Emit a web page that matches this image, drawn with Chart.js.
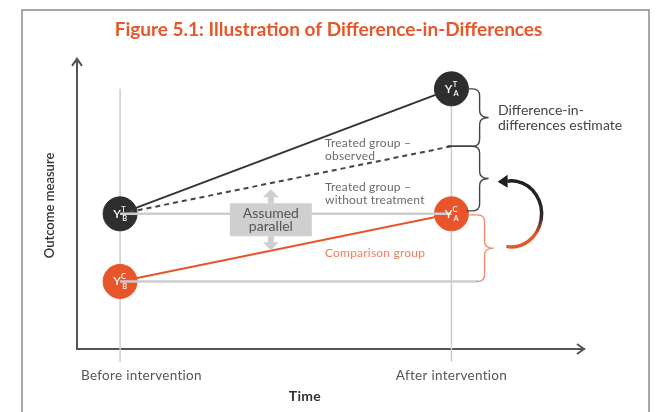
<!DOCTYPE html>
<html>
<head>
<meta charset="utf-8">
<script src="https://cdn.jsdelivr.net/npm/chart.js@4/dist/chart.umd.min.js"></script>
<style>
  html, body { margin: 0; padding: 0; background: #fff; }
  #wrap { width: 657px; height: 412px; }
</style>
</head>
<body>
<div id="wrap"><canvas id="didChart" width="657" height="412"></canvas></div>
<script>
// data (arbitrary outcome units)
const timeLabels = ['Before intervention', 'After intervention'];
const timeValues = [0, 1];
const treatedObserved = [5, 8.7];
const treatedWithout = [5, 7];
const comparisonGroup = [3, 5];
const treatedMarks = [['T', 'B'], ['T', 'A']];
const comparisonMarks = [['C', 'B'], ['C', 'A']];

const DARK = '#333333';
const ORANGE = '#e9552a';
const GRAY = '#cdcdcd';
const FONT = 'Lato';

// where the braces sit, in x units
const braceX = 1.085;
const orangeBraceX = 1.1;

function pts(xs, ys) {
    return xs.map((x, i) => ({ x: x, y: ys[i] }));
}

function drawBrace(ctx, x, y1, y2, armStart1, armStart2, color) {
    const r = 7;
    const mid = (y1 + y2) / 2;
    ctx.save();
    ctx.strokeStyle = color;
    ctx.lineWidth = 1.4;
    ctx.beginPath();
    ctx.moveTo(armStart1, y1);
    ctx.lineTo(x - r, y1);
    ctx.quadraticCurveTo(x, y1, x, y1 + r);
    ctx.lineTo(x, mid - r);
    ctx.quadraticCurveTo(x, mid, x + r + 2, mid);
    ctx.quadraticCurveTo(x, mid, x, mid + r);
    ctx.lineTo(x, y2 - r);
    ctx.quadraticCurveTo(x, y2, x - r, y2);
    ctx.lineTo(armStart2, y2);
    ctx.stroke();
    ctx.restore();
}

function drawMark(ctx, x, y, sup, sub) {
    ctx.save();
    ctx.fillStyle = '#fff';
    ctx.textBaseline = 'middle';
    ctx.textAlign = 'center';
    ctx.font = '600 12px ' + FONT;
    ctx.fillText('Y', x - 3, y);
    ctx.font = '600 7.5px ' + FONT;
    ctx.fillText(sup, x + 3.5, y - 4.5);
    ctx.fillText(sub, x + 4.5, y + 5);
    ctx.restore();
}

const decorPlugin = {
    id: 'decor',
    beforeDraw(chart) {
        const ctx = chart.ctx;
        ctx.save();
        ctx.fillStyle = '#fff';
        ctx.fillRect(0, 0, chart.width, chart.height);
        ctx.strokeStyle = '#8a8a8a';
        ctx.lineWidth = 1.5;
        ctx.strokeRect(22, 10, 627, 420);
        ctx.restore();
    },
    beforeDatasetsDraw(chart) {
        const ctx = chart.ctx;
        const xs = chart.scales.x, ys = chart.scales.y;
        const area = chart.chartArea;
        // vertical time guides
        ctx.save();
        ctx.strokeStyle = GRAY;
        ctx.lineWidth = 1.5;
        timeValues.forEach(v => {
            const px = xs.getPixelForValue(v);
            ctx.beginPath();
            ctx.moveTo(px, ys.getPixelForValue(treatedObserved[1]));
            ctx.lineTo(px, area.bottom + 13);
            ctx.stroke();
        });
        ctx.restore();
    },
    afterDatasetsDraw(chart) {
        const ctx = chart.ctx;
        const xs = chart.scales.x, ys = chart.scales.y;
        const area = chart.chartArea;

        // marks inside the circles
        timeValues.forEach((v, i) => {
            drawMark(ctx, xs.getPixelForValue(v), ys.getPixelForValue(treatedObserved[i]), treatedMarks[i][0], treatedMarks[i][1]);
            drawMark(ctx, xs.getPixelForValue(v), ys.getPixelForValue(comparisonGroup[i]), comparisonMarks[i][0], comparisonMarks[i][1]);
        });

        // axis arrows
        ctx.save();
        ctx.strokeStyle = '#555';
        ctx.lineWidth = 2;
        ctx.beginPath();
        ctx.moveTo(area.left, area.bottom);
        ctx.lineTo(area.left, area.top - 3);
        ctx.stroke();
        ctx.beginPath();
        ctx.moveTo(area.left - 5, area.top + 4);
        ctx.lineTo(area.left, area.top - 3);
        ctx.lineTo(area.left + 5, area.top + 4);
        ctx.stroke();
        ctx.beginPath();
        ctx.moveTo(area.right - 7, area.bottom - 5);
        ctx.lineTo(area.right, area.bottom);
        ctx.lineTo(area.right - 7, area.bottom + 5);
        ctx.stroke();
        ctx.restore();

        // braces
        const xAfter = xs.getPixelForValue(1);
        const bx = xs.getPixelForValue(braceX);
        const obx = xs.getPixelForValue(orangeBraceX);
        drawBrace(ctx, bx, ys.getPixelForValue(treatedObserved[1]), ys.getPixelForValue(treatedWithout[1]), xAfter + 16, xAfter - 4, '#444');
        drawBrace(ctx, bx, ys.getPixelForValue(treatedWithout[1]), ys.getPixelForValue(comparisonGroup[1]) - 3, xAfter - 4, xAfter + 15, '#444');
        drawBrace(ctx, obx, ys.getPixelForValue(comparisonGroup[1]) + 1, ys.getPixelForValue(comparisonGroup[0]), xAfter + 16, obx - 8, '#f08c6c');

        // curved arrow from comparison change to treated change
        const cx = bx + 32, cy = (ys.getPixelForValue(treatedWithout[1]) + ys.getPixelForValue(comparisonGroup[0])) / 2;
        const grad = ctx.createLinearGradient(0, cy - 34, 0, cy + 34);
        grad.addColorStop(0, '#1e1e1e');
        grad.addColorStop(0.55, '#2a2a2a');
        grad.addColorStop(0.8, ORANGE);
        grad.addColorStop(1, ORANGE);
        ctx.save();
        ctx.strokeStyle = grad;
        ctx.lineWidth = 3.5;
        ctx.beginPath();
        ctx.ellipse(cx, cy, 30, 33, 0, 100 * Math.PI / 180, -98 * Math.PI / 180, true);
        ctx.stroke();
        const tipY = cy - 33;
        ctx.fillStyle = '#1e1e1e';
        ctx.beginPath();
        ctx.moveTo(cx - 14, tipY + 1);
        ctx.lineTo(cx - 4, tipY - 6);
        ctx.lineTo(cx - 4, tipY + 7);
        ctx.closePath();
        ctx.fill();
        ctx.restore();

        // assumed parallel box with arrows
        const pX = xs.getPixelForValue(0.455);
        const pY = ys.getPixelForValue(4.84);
        ctx.save();
        ctx.fillStyle = '#cfcfcf';
        ctx.fillRect(pX - 41, pY - 16, 82, 33);
        ctx.beginPath();
        ctx.moveTo(pX, pY - 30);
        ctx.lineTo(pX - 8, pY - 22);
        ctx.lineTo(pX - 3, pY - 22);
        ctx.lineTo(pX - 3, pY - 16);
        ctx.lineTo(pX + 3, pY - 16);
        ctx.lineTo(pX + 3, pY - 22);
        ctx.lineTo(pX + 8, pY - 22);
        ctx.closePath();
        ctx.moveTo(pX, pY + 31);
        ctx.lineTo(pX - 8, pY + 23);
        ctx.lineTo(pX - 3, pY + 23);
        ctx.lineTo(pX - 3, pY + 17);
        ctx.lineTo(pX + 3, pY + 17);
        ctx.lineTo(pX + 3, pY + 23);
        ctx.lineTo(pX + 8, pY + 23);
        ctx.closePath();
        ctx.fill();
        ctx.fillStyle = '#555';
        ctx.font = '14px ' + FONT;
        ctx.textAlign = 'center';
        ctx.textBaseline = 'middle';
        ctx.fillText('Assumed', pX, pY - 6);
        ctx.fillText('parallel', pX, pY + 7);
        ctx.restore();

        // annotations
        ctx.save();
        ctx.textBaseline = 'middle';
        ctx.textAlign = 'left';
        ctx.letterSpacing = '0.2px';
        ctx.font = '12px ' + FONT;
        ctx.fillStyle = '#6a6a6a';
        ctx.fillText('Treated group \u2013', 325, 143);
        ctx.fillText('observed', 325, 156);
        ctx.fillText('Treated group \u2013', 325, 187);
        ctx.fillText('without treatment', 325, 200);
        ctx.fillStyle = '#ef7d5c';
        ctx.fillText('Comparison group', 325, 253);
        ctx.fillStyle = '#444';
        ctx.font = '14px ' + FONT;
        ctx.letterSpacing = '0px';
        ctx.fillText('Difference-in-', 498, 110);
        ctx.fillText('differences estimate', 498, 125);

        // x tick labels and axis title
        ctx.fillStyle = '#555';
        ctx.font = '13.5px ' + FONT;
        ctx.letterSpacing = '0.3px';
        ctx.textAlign = 'left';
        ctx.fillText(timeLabels[0], 81, 376);
        ctx.textAlign = 'center';
        ctx.fillText(timeLabels[1], xs.getPixelForValue(timeValues[1]), 376);
        ctx.fillStyle = '#333';
        ctx.font = 'bold 14px ' + FONT;
        ctx.fillText('Time', 305, 396);
        ctx.restore();
    }
};

new Chart(document.getElementById('didChart'), {
    type: 'line',
    data: {
        datasets: [
            {
                data: pts(timeValues, [treatedObserved[0], treatedObserved[0]]),
                borderColor: GRAY, borderWidth: 2.5, pointRadius: 0
            },
            {
                data: pts([timeValues[0], orangeBraceX - 0.02], [comparisonGroup[0], comparisonGroup[0]]),
                borderColor: GRAY, borderWidth: 2.5, pointRadius: 0
            },
            {
                data: pts(timeValues, treatedObserved),
                borderColor: DARK, borderWidth: 2, pointRadius: 0
            },
            {
                data: pts(timeValues, treatedWithout),
                borderColor: '#444', borderWidth: 2, borderDash: [5, 4], pointRadius: 0
            },
            {
                data: pts(timeValues, comparisonGroup),
                borderColor: ORANGE, borderWidth: 2, pointRadius: 0
            },
            {
                data: pts(timeValues, treatedObserved),
                showLine: false, pointRadius: 17, pointBackgroundColor: '#2e2e2e', pointBorderColor: '#2e2e2e'
            },
            {
                data: pts(timeValues, comparisonGroup),
                showLine: false, pointRadius: 17, pointBackgroundColor: ORANGE, pointBorderColor: ORANGE
            }
        ]
    },
    options: {
        responsive: false,
        animation: false,
        layout: { padding: 0 },
        plugins: {
            legend: { display: false },
            tooltip: { enabled: false },
            title: {
                display: true,
                text: 'Figure 5.1: Illustration of Difference-in-Differences',
                color: ORANGE,
                font: { family: FONT, size: 19, weight: 'bold' },
                padding: { top: 18, bottom: 21 }
            }
        },
        scales: {
            x: {
                type: 'linear',
                min: -0.13,
                max: 1.4,
                ticks: { display: false },
                grid: { display: false },
                border: { display: true, color: '#555', width: 2 },
                afterFit: s => { s.height = 63; }
            },
            y: {
                min: 1,
                max: 9.5,
                ticks: { display: false },
                grid: { display: false },
                border: { display: false },
                title: {
                    display: true,
                    text: 'Outcome measure',
                    color: '#333',
                    font: { family: FONT, size: 13, weight: '600' },
                    padding: { top: 42, bottom: 0 }
                },
                afterFit: s => { s.width = 77; }
            },
            // empty right-hand strip so the plot stops where the figure's arrow does
            side: {
                position: 'right',
                ticks: { display: false },
                grid: { display: false },
                border: { display: false },
                afterFit: s => { s.width = 73; }
            }
        }
    },
    plugins: [decorPlugin]
});
</script>
</body>
</html>
